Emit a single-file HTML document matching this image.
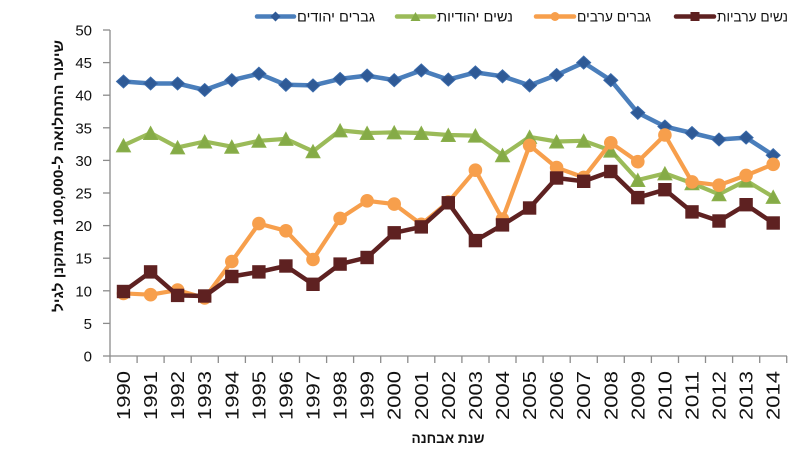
<!DOCTYPE html>
<html>
<head>
<meta charset="utf-8">
<style>
html,body{margin:0;padding:0;background:#fff;}
svg{display:block;}
</style>
</head>
<body>
<svg width="800" height="469" viewBox="0 0 800 469" xmlns="http://www.w3.org/2000/svg">
<defs>
<marker id="mDia" markerUnits="userSpaceOnUse" markerWidth="16" markerHeight="16" refX="8" refY="8" overflow="visible">
<polygon points="1,8 8,1.5 15,8 8,14.5" fill="#2F5A96" stroke="#3A6AAA" stroke-width="1"/>
</marker>
<marker id="mTri" markerUnits="userSpaceOnUse" markerWidth="16" markerHeight="16" refX="8" refY="8" overflow="visible">
<polygon points="1,14.5 8,1.5 15,14.5" fill="#85AB47" stroke="#8BB04C" stroke-width="1"/>
</marker>
<marker id="mCir" markerUnits="userSpaceOnUse" markerWidth="16" markerHeight="16" refX="8" refY="8" overflow="visible">
<circle cx="8" cy="8" r="6.8" fill="#F79F4C"/>
</marker>
<marker id="mSq" markerUnits="userSpaceOnUse" markerWidth="16" markerHeight="16" refX="8" refY="8" overflow="visible">
<rect x="1.3" y="1.3" width="13.4" height="13.4" fill="#5E2121"/>
</marker>
</defs>

<!-- axes -->
<g stroke="#8C8C8C" stroke-width="1.3" fill="none">
<line x1="110" y1="30" x2="110" y2="356.5"/>
<line x1="109.5" y1="356" x2="787" y2="356"/>
<line x1="103" y1="30" x2="110" y2="30"/>
<line x1="103" y1="62.6" x2="110" y2="62.6"/>
<line x1="103" y1="95.2" x2="110" y2="95.2"/>
<line x1="103" y1="127.8" x2="110" y2="127.8"/>
<line x1="103" y1="160.4" x2="110" y2="160.4"/>
<line x1="103" y1="193" x2="110" y2="193"/>
<line x1="103" y1="225.6" x2="110" y2="225.6"/>
<line x1="103" y1="258.2" x2="110" y2="258.2"/>
<line x1="103" y1="290.8" x2="110" y2="290.8"/>
<line x1="103" y1="323.4" x2="110" y2="323.4"/>
<line x1="103" y1="356" x2="110" y2="356"/>
<line x1="110" y1="356" x2="110" y2="363"/>
<line x1="137.1" y1="356" x2="137.1" y2="363"/>
<line x1="164.1" y1="356" x2="164.1" y2="363"/>
<line x1="191.2" y1="356" x2="191.2" y2="363"/>
<line x1="218.3" y1="356" x2="218.3" y2="363"/>
<line x1="245.4" y1="356" x2="245.4" y2="363"/>
<line x1="272.4" y1="356" x2="272.4" y2="363"/>
<line x1="299.5" y1="356" x2="299.5" y2="363"/>
<line x1="326.6" y1="356" x2="326.6" y2="363"/>
<line x1="353.6" y1="356" x2="353.6" y2="363"/>
<line x1="380.7" y1="356" x2="380.7" y2="363"/>
<line x1="407.8" y1="356" x2="407.8" y2="363"/>
<line x1="434.8" y1="356" x2="434.8" y2="363"/>
<line x1="461.9" y1="356" x2="461.9" y2="363"/>
<line x1="489" y1="356" x2="489" y2="363"/>
<line x1="516" y1="356" x2="516" y2="363"/>
<line x1="543.1" y1="356" x2="543.1" y2="363"/>
<line x1="570.2" y1="356" x2="570.2" y2="363"/>
<line x1="597.3" y1="356" x2="597.3" y2="363"/>
<line x1="624.3" y1="356" x2="624.3" y2="363"/>
<line x1="651.4" y1="356" x2="651.4" y2="363"/>
<line x1="678.5" y1="356" x2="678.5" y2="363"/>
<line x1="705.5" y1="356" x2="705.5" y2="363"/>
<line x1="732.6" y1="356" x2="732.6" y2="363"/>
<line x1="759.7" y1="356" x2="759.7" y2="363"/>
<line x1="786.7" y1="356" x2="786.7" y2="363"/>
</g>

<!-- y tick labels -->
<g font-family="'Liberation Sans', 'DejaVu Sans', sans-serif" font-size="15" fill="#111" text-anchor="end">
<text x="92" y="35.5">50</text>
<text x="92" y="68.1">45</text>
<text x="92" y="100.7">40</text>
<text x="92" y="133.3">35</text>
<text x="92" y="165.9">30</text>
<text x="92" y="198.5">25</text>
<text x="92" y="231.1">20</text>
<text x="92" y="263.7">15</text>
<text x="92" y="296.3">10</text>
<text x="92" y="328.9">5</text>
<text x="92" y="361.5">0</text>
</g>

<!-- x tick labels -->
<g font-family="'Liberation Sans', 'DejaVu Sans', sans-serif" font-size="18" fill="#111" text-anchor="end">
<text transform="translate(130,371) rotate(-90)" textLength="49" lengthAdjust="spacingAndGlyphs">1990</text>
<text transform="translate(157.1,371) rotate(-90)" textLength="49" lengthAdjust="spacingAndGlyphs">1991</text>
<text transform="translate(184.1,371) rotate(-90)" textLength="49" lengthAdjust="spacingAndGlyphs">1992</text>
<text transform="translate(211.2,371) rotate(-90)" textLength="49" lengthAdjust="spacingAndGlyphs">1993</text>
<text transform="translate(238.3,371) rotate(-90)" textLength="49" lengthAdjust="spacingAndGlyphs">1994</text>
<text transform="translate(265.4,371) rotate(-90)" textLength="49" lengthAdjust="spacingAndGlyphs">1995</text>
<text transform="translate(292.4,371) rotate(-90)" textLength="49" lengthAdjust="spacingAndGlyphs">1996</text>
<text transform="translate(319.5,371) rotate(-90)" textLength="49" lengthAdjust="spacingAndGlyphs">1997</text>
<text transform="translate(346.6,371) rotate(-90)" textLength="49" lengthAdjust="spacingAndGlyphs">1998</text>
<text transform="translate(373.6,371) rotate(-90)" textLength="49" lengthAdjust="spacingAndGlyphs">1999</text>
<text transform="translate(400.7,371) rotate(-90)" textLength="49" lengthAdjust="spacingAndGlyphs">2000</text>
<text transform="translate(427.8,371) rotate(-90)" textLength="49" lengthAdjust="spacingAndGlyphs">2001</text>
<text transform="translate(454.8,371) rotate(-90)" textLength="49" lengthAdjust="spacingAndGlyphs">2002</text>
<text transform="translate(481.9,371) rotate(-90)" textLength="49" lengthAdjust="spacingAndGlyphs">2003</text>
<text transform="translate(509,371) rotate(-90)" textLength="49" lengthAdjust="spacingAndGlyphs">2004</text>
<text transform="translate(536,371) rotate(-90)" textLength="49" lengthAdjust="spacingAndGlyphs">2005</text>
<text transform="translate(563.1,371) rotate(-90)" textLength="49" lengthAdjust="spacingAndGlyphs">2006</text>
<text transform="translate(590.2,371) rotate(-90)" textLength="49" lengthAdjust="spacingAndGlyphs">2007</text>
<text transform="translate(617.3,371) rotate(-90)" textLength="49" lengthAdjust="spacingAndGlyphs">2008</text>
<text transform="translate(644.3,371) rotate(-90)" textLength="49" lengthAdjust="spacingAndGlyphs">2009</text>
<text transform="translate(671.4,371) rotate(-90)" textLength="49" lengthAdjust="spacingAndGlyphs">2010</text>
<text transform="translate(698.5,371) rotate(-90)" textLength="49" lengthAdjust="spacingAndGlyphs">2011</text>
<text transform="translate(725.5,371) rotate(-90)" textLength="49" lengthAdjust="spacingAndGlyphs">2012</text>
<text transform="translate(752.6,371) rotate(-90)" textLength="49" lengthAdjust="spacingAndGlyphs">2013</text>
<text transform="translate(779.7,371) rotate(-90)" textLength="49" lengthAdjust="spacingAndGlyphs">2014</text>
</g>

<!-- axis titles -->
<text transform="translate(63,176) rotate(-90)" font-family="'Liberation Sans', 'DejaVu Sans', sans-serif" font-size="14" font-weight="bold" fill="#111" text-anchor="middle" direction="rtl" textLength="272" lengthAdjust="spacingAndGlyphs">שיעור התחלואה ל-100,000 מתוקנן לגיל</text>
<text x="448" y="443" font-family="'Liberation Sans', 'DejaVu Sans', sans-serif" font-size="14" font-weight="bold" fill="#111" text-anchor="middle" direction="rtl" textLength="73" lengthAdjust="spacingAndGlyphs">שנת אבחנה</text>

<!-- series -->
<polyline fill="none" stroke="#4A7EBB" stroke-width="4.5" stroke-linejoin="round" marker-start="url(#mDia)" marker-mid="url(#mDia)" marker-end="url(#mDia)"
points="123.5,81.5 150.6,83.5 177.6,83.5 204.7,90 231.8,80.2 258.9,73.7 285.9,84.8 313,85.4 340.1,78.9 367.1,75.6 394.2,80.2 421.3,70.4 448.3,79.6 475.4,72.4 502.5,76.3 529.6,85.4 556.6,75 583.7,62.6 610.8,80.2 637.8,112.8 664.9,126.5 692,133 719,139.5 746.1,137.6 773.2,155.2"/>

<polyline fill="none" stroke="#9BBB59" stroke-width="4.2" stroke-linejoin="round" marker-start="url(#mTri)" marker-mid="url(#mTri)" marker-end="url(#mTri)"
points="123.5,145.4 150.6,133 177.6,147.4 204.7,141.5 231.8,146.7 258.9,140.8 285.9,138.9 313,151.3 340.1,130.4 367.1,133 394.2,132.4 421.3,133 448.3,135 475.4,135.6 502.5,155.2 529.6,136.9 556.6,141.5 583.7,140.8 610.8,150.6 637.8,180 664.9,173.4 692,183.2 719,194.3 746.1,180.6 773.2,196.9"/>

<polyline fill="none" stroke="#F79F4C" stroke-width="4.2" stroke-linejoin="round" marker-start="url(#mCir)" marker-mid="url(#mCir)" marker-end="url(#mCir)"
points="123.5,293.4 150.6,294.7 177.6,290.1 204.7,298 231.8,261.5 258.9,223.6 285.9,230.8 313,259.5 340.1,218.4 367.1,200.8 394.2,204.1 421.3,224.3 448.3,202.1 475.4,170.2 502.5,219.1 529.6,145.4 556.6,167.6 583.7,177.4 610.8,142.8 637.8,161.7 664.9,135 692,181.9 719,185.2 746.1,175.4 773.2,164.3"/>

<polyline fill="none" stroke="#5E2121" stroke-width="4.5" stroke-linejoin="round" marker-start="url(#mSq)" marker-mid="url(#mSq)" marker-end="url(#mSq)"
points="123.5,291.5 150.6,271.9 177.6,295.4 204.7,296 231.8,276.5 258.9,271.9 285.9,266 313,284.3 340.1,264.1 367.1,257.5 394.2,232.8 421.3,226.9 448.3,202.8 475.4,240.6 502.5,224.9 529.6,208 556.6,178 583.7,181.3 610.8,171.5 637.8,197.6 664.9,189.7 692,211.9 719,221 746.1,204.7 773.2,223"/>

<!-- legend -->
<g stroke-width="4.5" stroke-linecap="round">
<line x1="257" y1="16.5" x2="294" y2="16.5" stroke="#4A7EBB"/>
<line x1="397" y1="16.5" x2="434" y2="16.5" stroke="#9BBB59"/>
<line x1="536" y1="16.5" x2="574" y2="16.5" stroke="#F79F4C"/>
<line x1="676" y1="16.5" x2="714" y2="16.5" stroke="#5E2121"/>
</g>
<polygon points="270.5,16.5 275.5,11.5 280.5,16.5 275.5,21.5" fill="#2F5A96"/>
<polygon points="410.5,21 415.5,12 420.5,21" fill="#85AB47"/>
<circle cx="555" cy="16.5" r="4.5" fill="#F79F4C"/>
<rect x="690.5" y="12" width="9" height="9" fill="#5E2121"/>
<g font-family="'Liberation Sans', 'DejaVu Sans', sans-serif" font-size="14" fill="#111" text-anchor="middle">
<text x="336" y="21.5" textLength="78" lengthAdjust="spacingAndGlyphs">גברים יהודים</text>
<text x="475" y="21.5" textLength="76" lengthAdjust="spacingAndGlyphs">נשים יהודיות</text>
<text x="614" y="21.5" textLength="74" lengthAdjust="spacingAndGlyphs">גברים ערבים</text>
<text x="752.5" y="21.5" textLength="71" lengthAdjust="spacingAndGlyphs">נשים ערביות</text>
</g>
</svg>
</body>
</html>
